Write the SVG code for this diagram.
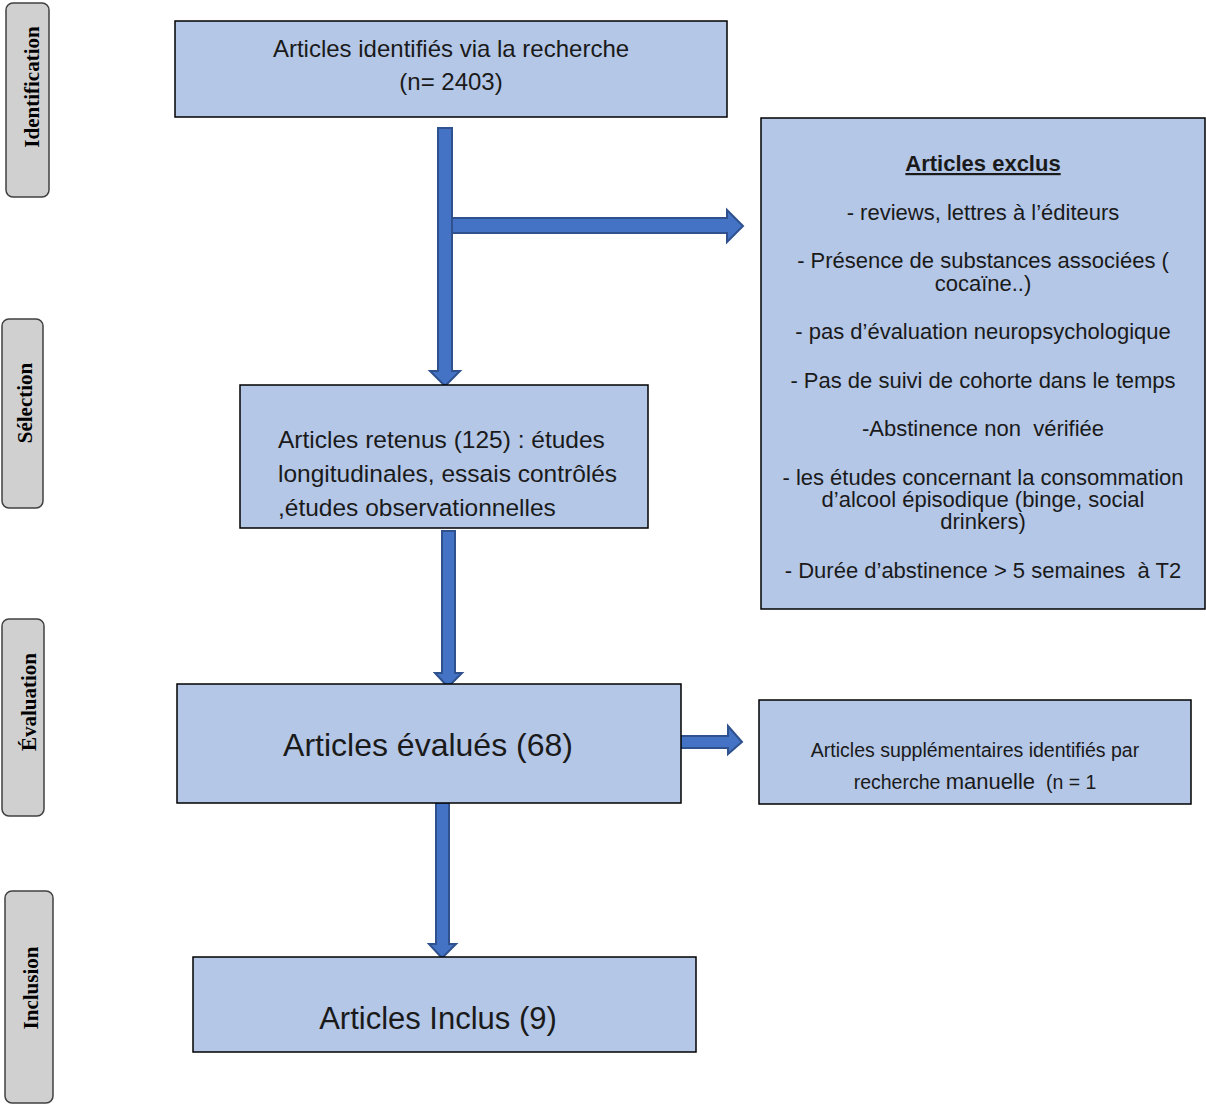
<svg xmlns="http://www.w3.org/2000/svg" width="1206" height="1105" viewBox="0 0 1206 1105">
<style>
.box{fill:#B4C7E7;stroke:#000;stroke-width:1.5}
.side{fill:#D0D0D0;stroke:#404040;stroke-width:1.5}
.sl{font-family:"Liberation Serif","Times New Roman",serif;font-weight:bold;font-size:21px;fill:#000;text-anchor:middle}
.t{font-family:"Liberation Sans",Arial,sans-serif;fill:#1a1a1a;text-anchor:middle;white-space:pre}
.ex{font-size:22px}
.arr{fill:#4472C4;stroke:#2F528F;stroke-width:2}
</style>
<rect width="1206" height="1105" fill="#fff"/>
<g id="side-identification"><rect class="side" x="6" y="3" width="43" height="194" rx="7"/><text class="sl" transform="translate(39,87) rotate(-90)">Identification</text></g>
<g id="side-selection"><rect class="side" x="2" y="319" width="41" height="189" rx="7"/><text class="sl" transform="translate(32,403) rotate(-90)">Sélection</text></g>
<g id="side-evaluation"><rect class="side" x="2" y="619" width="42" height="197" rx="7"/><text class="sl" transform="translate(36,702) rotate(-90)">Évaluation</text></g>
<g id="side-inclusion"><rect class="side" x="5" y="891" width="48" height="212" rx="7"/><text class="sl" transform="translate(38,988) rotate(-90)">Inclusion</text></g>

<g id="connectors">
<path class="arr" d="M438,128 H452 V371 H460 L445,386 L430,371 H438 Z"/>
<path class="arr" d="M452,218 H727 V210 L743,226 L727,242 V233 H452 Z"/>
<path class="arr" d="M442,531 H455 V673 H462 L448,687 L435,673 H442 Z"/>
<path class="arr" d="M436,803 H449 V944 H456 L442,958 L429,944 H436 Z"/>
<path class="arr" d="M680,736 H728 V726 L742,742 L728,754 V748 H680 Z"/>
</g>

<g id="node-identifies"><rect class="box" x="175" y="21" width="552" height="96"/>
<text class="t" font-size="24" x="451" y="57">Articles identifiés via la recherche</text>
<text class="t" font-size="24" x="451" y="90">(n= 2403)</text></g>

<g id="node-retenus"><rect class="box" x="240" y="385" width="408" height="143"/>
<text class="t" font-size="24.5" x="278" y="448" style="text-anchor:start">Articles retenus (125) : études</text>
<text class="t" font-size="24.5" x="278" y="482" style="text-anchor:start">longitudinales, essais contrôlés</text>
<text class="t" font-size="24.5" x="278" y="516" style="text-anchor:start">,études observationnelles</text></g>

<g id="node-exclus"><rect class="box" x="761" y="118" width="444" height="491"/>
<text class="t ex" x="983" y="171" font-weight="bold" text-decoration="underline">Articles exclus</text>
<text class="t ex" x="983" y="220">- reviews, lettres à l’éditeurs</text>
<text class="t ex" x="983" y="268">- Présence de substances associées (</text>
<text class="t ex" x="983" y="291">cocaïne..)</text>
<text class="t ex" x="983" y="339">- pas d’évaluation neuropsychologique</text>
<text class="t ex" x="983" y="388">- Pas de suivi de cohorte dans le temps</text>
<text class="t ex" x="983" y="436">-Abstinence non  vérifiée</text>
<text class="t ex" x="983" y="485">- les études concernant la consommation</text>
<text class="t ex" x="983" y="507">d’alcool épisodique (binge, social</text>
<text class="t ex" x="983" y="529">drinkers)</text>
<text class="t ex" x="983" y="578">- Durée d’abstinence &gt; 5 semaines  à T2</text></g>

<g id="node-evalues"><rect class="box" x="177" y="684" width="504" height="119"/>
<text class="t" font-size="32" x="428" y="756">Articles évalués (68)</text></g>

<g id="node-supplementaires"><rect class="box" x="759" y="700" width="432" height="104"/>
<text class="t" font-size="19.5" x="975" y="757">Articles supplémentaires identifiés par</text>
<text class="t" font-size="19.5" x="975" y="789">recherche <tspan font-size="22">manuelle</tspan>  (n = 1</text></g>

<g id="node-inclus"><rect class="box" x="193" y="957" width="503" height="95"/>
<text class="t" font-size="31" x="438" y="1029">Articles Inclus (9)</text></g>
</svg>
